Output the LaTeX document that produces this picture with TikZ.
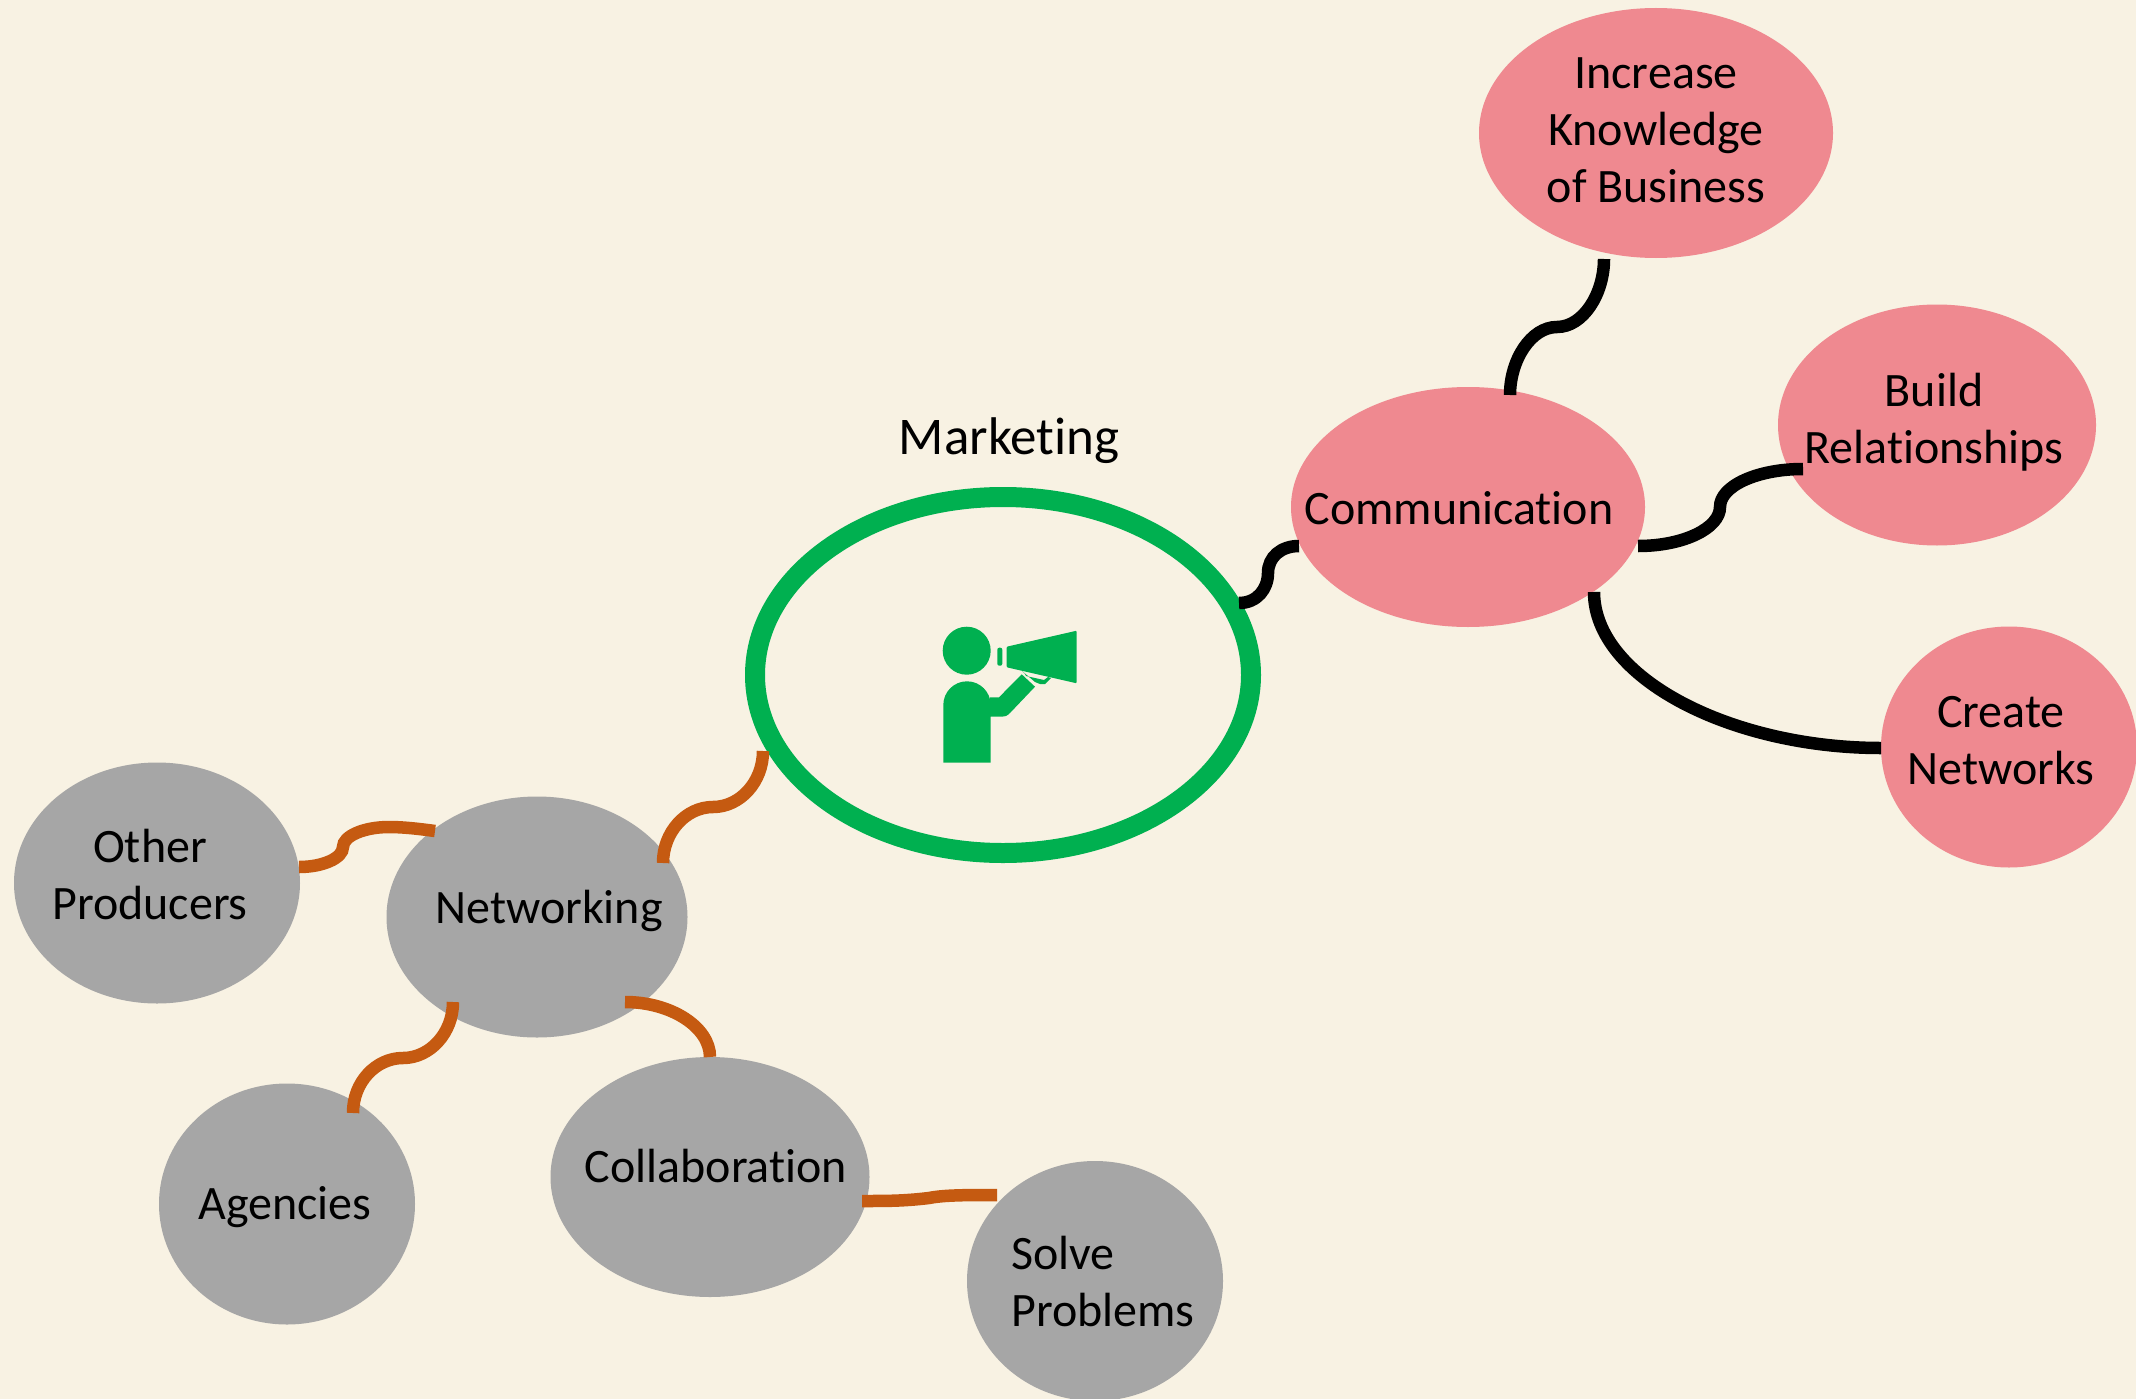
\documentclass[tikz,border=0pt]{standalone}
\usepackage{fontspec}
\setmainfont[Ligatures=NoCommon]{Carlito}
\usetikzlibrary{shapes.geometric}
\definecolor{paper}{HTML}{F8F2E3}
\definecolor{rosy}{HTML}{EF8990}
\definecolor{stone}{HTML}{A6A6A6}
\definecolor{leaf}{HTML}{00B050}
\definecolor{rust}{HTML}{C55A11}
\tikzset{
  blob/.style n args={3}{shape=ellipse, fill=#1, minimum width=#2pt, minimum height=#3pt, inner sep=0pt},
  lbl/.style={font=\fontsize{48}{57}\selectfont, align=center, inner sep=0pt},
  linkk/.style={draw=black, line width=12.5pt},
  linkr/.style={draw=rust, line width=12.5pt},
}

\begin{document}
\begin{tikzpicture}[x=1pt, y=-1pt]
\fill[paper] (0,0) rectangle (2136,1399);
\useasboundingbox (0,0) rectangle (2136,1399);

\node[blob={rosy}{354}{250}] (increase) at (1656,133) {};
\node[blob={rosy}{318}{241}] (build) at (1937,425) {};
\node[blob={rosy}{354}{240}] (communication) at (1468,507) {};
\node[blob={rosy}{256}{241}] (create) at (2009,747) {};
\node[blob={stone}{286}{241}] (other) at (157,883) {};
\node[blob={stone}{301}{241}] (networking) at (537,917) {};
\node[blob={stone}{256}{241}] (agencies) at (287,1204) {};
\node[blob={stone}{319}{240}] (collaboration) at (710,1177) {};
\node[blob={stone}{256}{240}] (solve) at (1095,1281) {};
\node[shape=ellipse, draw=leaf, line width=20pt, minimum width=496pt, minimum height=356pt, inner sep=0pt] (marketing) at (1003,675) {};

\node[lbl, font=\fontsize{53}{64}\selectfont] (marketinglbl) at (1009,441) {Marketing};
\node[lbl] (increaselbl) at (1656,130) {Increase\\Knowledge\\of Business};
\node[lbl] (buildlbl) at (1934,422) {Build\\Relationships};
\node[lbl] (communicationlbl) at (1459,508) {Communication};
\node[lbl] (createlbl) at (2001,741) {Create\\Networks};
\node[lbl] (otherlbl) at (150,875) {Other\\Producers};
\node[lbl] (networkinglbl) at (549,911) {Networking};
\node[lbl] (agencieslbl) at (285,1207) {Agencies};
\node[lbl] (collaborationlbl) at (716,1166) {Collaboration};
\node[lbl, align=left] (solvelbl) at (1103,1281) {Solve\\Problems};

% megaphone man
\fill[leaf] (966.7,650.7) circle (24);
\fill[leaf] (943.3,762.7) -- (943.3,705) arc[start angle=180, end angle=360, x radius=23.7, y radius=23.7]
  -- (990,697.3) -- (999,697.3) -- (1021.7,674.3) -- (1035,686.7) -- (1010,713)
  .. controls (1007,716) and (1005,716.7) .. (1002,716.7) -- (990.7,716.7) -- (990.7,762.7) -- cycle;
\fill[leaf, rounded corners=1pt] (1006.7,646.7) -- (1076.7,630.7) -- (1076.7,683.3) -- (1006.7,667.3) -- cycle;
\fill[leaf, rounded corners=2pt] (997.3,647.7) rectangle (1002.3,665.7);
\fill[leaf] (1022,671) -- (1025,674) -- (1026,676) -- (1044,680) -- (1048,677) -- (1051,678) -- (1045,684) -- (1040,684) -- (1035,682) -- cycle;

% red side
\draw[linkk] ([shift={(236,-72)}]marketing.center) .. controls +(18,0) and +(0,16) .. ++(29,-30) .. controls +(0,-16) and +(-18,0) .. ([shift={(-169,39)}]communication.center);
\draw[linkk] ([shift={(42,-112)}]communication.center) .. controls +(0,-35) and +(-26,0) .. ++(47,-68) .. controls +(26,0) and +(0,35) .. ([shift={(-52,126)}]increase.center);
\draw[linkk] ([shift={(170,39)}]communication.center) .. controls +(46,0) and +(0,21) .. ++(82,-39) .. controls +(0,-21) and +(-46,0) .. ([shift={(-134,44)}]build.center);
\draw[linkk] ([shift={(126,85)}]communication.center) .. controls +(0,86) and +(-150,0) .. ([shift={(-128,1)}]create.center);

% grey side
\draw[linkr] ([shift={(-240,76)}]marketing.center) .. controls +(0,31) and +(27,0) .. ++(-50,56) .. controls +(-27,0) and +(0,-31) .. ([shift={(126,-54)}]networking.center);
\draw[linkr] ([shift={(142,-16)}]other.center) .. controls +(24,0) and +(0,11) .. ++(44,-20) .. controls +(0,-11) and +(-25,0) .. ++(46,-20) .. controls +(15,0) and +(-15,-2) .. ([shift={(-102,-86)}]networking.center);
\draw[linkr] ([shift={(-84,85)}]networking.center) .. controls +(0,31) and +(27,0) .. ++(-50,56) .. controls +(-27,0) and +(0,-31) .. ([shift={(66,-91)}]agencies.center);
\draw[linkr] ([shift={(88,85)}]networking.center) .. controls +(46,0) and +(0,-30) .. ([shift={(0,-120)}]collaboration.center);
\draw[linkr] ([shift={(152,24)}]collaboration.center) .. controls +(25,0) and +(-25,3) .. ++(67,-3) .. controls +(15,-3) and +(-30,0) .. ([shift={(-98,-86)}]solve.center);
\end{tikzpicture}
\end{document}
